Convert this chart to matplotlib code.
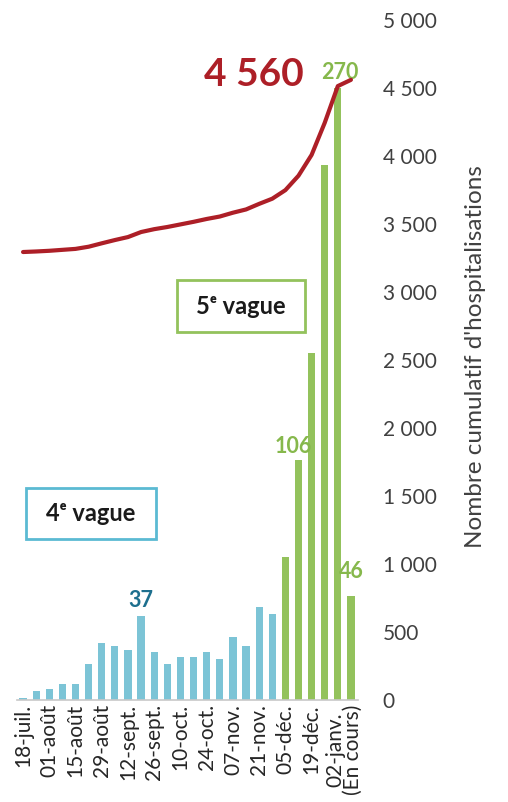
import matplotlib
matplotlib.use("Agg")
import matplotlib.pyplot as plt
from matplotlib.patches import Rectangle

plt.rcParams['font.family'] = ['Lato', 'DejaVu Sans']

# ---- data ----
tick_labels = ["18-juil.", "01-août", "15-août", "29-août", "12-sept.", "26-sept.",
               "10-oct.", "24-oct.", "07-nov.", "21-nov.", "05-déc.", "19-déc.",
               "02-janv.\n(En cours)"]
tick_positions = [0, 2, 4, 6, 8, 10, 12, 14, 16, 18, 20, 22, 24.5]
wave4_weekly = [1, 4, 5, 7, 7, 16, 25, 24, 22, 37, 21, 16, 19, 19, 21, 18, 28, 24, 41, 38]
wave5_weekly = [63, 106, 153, 236, 270, 46]
cumulative = [3294, 3298, 3303, 3310, 3317, 3333, 3358, 3382, 3404, 3441, 3462, 3478,
              3497, 3516, 3537, 3555, 3583, 3607, 3648, 3686, 3749, 3855, 4008, 4244,
              4514, 4560]
right_ticks = [0, 500, 1000, 1500, 2000, 2500, 3000, 3500, 4000, 4500, 5000]
right_tick_labels = ["0", "500", "1 000", "1 500", "2 000", "2 500", "3 000",
                     "3 500", "4 000", "4 500", "5 000"]
bar_labels = {9: "37", 21: "106", 24: "270", 25: "46"}

BLUE = "#7cc4d6"
GREEN = "#93c25c"
GREEN_TXT = "#86b84c"
RED = "#ad1f27"
BLUE_TXT = "#1d6f8e"

W, H = 508, 802
fig = plt.figure(figsize=(W / 100, H / 100), dpi=100)
left, right, bottom, top = 16.5, 357.5, 700, 20
ax = fig.add_axes([left / W, 1 - bottom / H, (right - left) / W, (bottom - top) / H])
ax2 = ax.twinx()

n4 = len(wave4_weekly)
x4 = list(range(n4))
x5 = list(range(n4, n4 + len(wave5_weekly)))
ax.bar(x4, wave4_weekly, width=0.55, color=BLUE, zorder=2)
ax.bar(x5, wave5_weekly, width=0.55, color=GREEN, zorder=2)
ax.set_ylim(0, 300)
ax.set_xlim(-0.5, n4 + len(wave5_weekly) - 0.5)

ax2.plot(list(range(len(cumulative))), cumulative, color=RED, lw=3, solid_capstyle='round',
         solid_joinstyle='round', zorder=3)
ax2.set_ylim(0, 5000)

for a in (ax, ax2):
    for s in ("top", "left", "right"):
        a.spines[s].set_visible(False)
ax.spines["bottom"].set_color("#c8c8c8")
ax2.spines["bottom"].set_visible(False)
ax.spines["bottom"].set_linewidth(1.2)
ax.set_yticks([])

ax.set_xticks(tick_positions)
ax.set_xticklabels(tick_labels, rotation=90, fontsize=15, color="#262626",
                   linespacing=0.85, multialignment="center")
ax.tick_params(axis="x", length=0, pad=3)

ax2.set_yticks(right_ticks)
ax2.set_yticklabels(right_tick_labels, fontsize=15, color="#404040")
ax2.tick_params(axis="y", length=0, pad=18)

fig.text(476 / W, 1 - 357 / H, "Nombre cumulatif d'hospitalisations", rotation=90,
         ha="center", va="center", fontsize=17.5, color="#404040")

# bar value labels
offsets = {9: (0, 5), 21: (-5, 3), 24: (2, 5), 25: (0, 14)}
weekly_all = wave4_weekly + wave5_weekly
for i, txt in bar_labels.items():
    col = BLUE_TXT if i < n4 else GREEN_TXT
    ax.annotate(txt, xy=(i, weekly_all[i]), xytext=offsets[i], textcoords="offset pixels",
                ha="center", va="bottom", fontsize=15.5, fontweight="bold", color=col, zorder=5)

# big total
ax.text((254 - left) / (right - left), (bottom - 75) / (bottom - top), "4 560",
        transform=ax.transAxes, ha="center", va="center", fontsize=28,
        fontweight="bold", color=RED)

# wave boxes
def wave_box(x0, x1, y0, y1, edge, label):
    ax.add_patch(Rectangle(((x0 - left) / (right - left), (bottom - y1) / (bottom - top)),
                           (x1 - x0) / (right - left), (y1 - y0) / (bottom - top),
                           transform=ax.transAxes, facecolor="white", edgecolor=edge,
                           lw=2, zorder=4, clip_on=False))
    ax.text(((x0 + x1) / 2 - left) / (right - left), (bottom - (y0 + y1) / 2) / (bottom - top),
            label, transform=ax.transAxes, ha="center", va="center", fontsize=17,
            fontweight="bold", color="#1a1a1a", zorder=5)

wave_box(177, 305, 280, 332, GREEN, "5ᵉ vague")
wave_box(26, 156, 488, 539, "#5bbad3", "4ᵉ vague")

fig.savefig("out.png", dpi=100, facecolor="white")
